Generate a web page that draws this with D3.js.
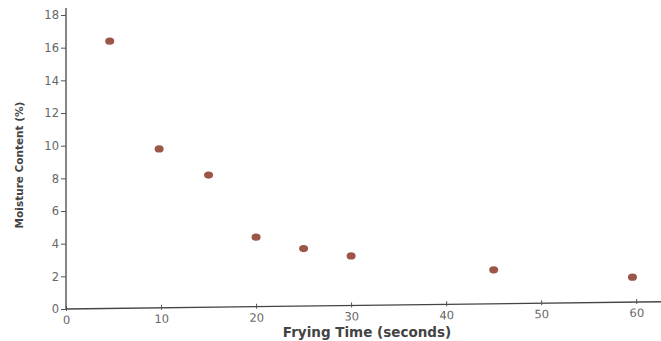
<!DOCTYPE html>
<html><head><meta charset="utf-8">
<script src="https://cdn.jsdelivr.net/npm/d3@7"></script>
<style>body{margin:0;background:#fff}svg{display:block}</style>
</head><body>
<script>
const fryingTime = [4.6, 9.8, 15, 20, 25, 30, 45, 59.6];
const moisture = [16.4, 9.8, 8.2, 4.4, 3.7, 3.25, 2.4, 1.95];
const xTicks = [0, 10, 20, 30, 40, 50, 60];
const yTicks = [0, 2, 4, 6, 8, 10, 12, 14, 16, 18];

const W = 661, H = 341;
const svg = d3.select("body").append("svg").attr("width", W).attr("height", H);
const x = d3.scaleLinear().domain([0, 62.5]).range([66, 660]);
const y = d3.scaleLinear().domain([0, 18]).range([309, 15]);
const font = "DejaVu Sans, Verdana, sans-serif";

const xa = svg.append("g").attr("transform", `translate(0,${y(0)}) rotate(-0.7 ${x(0)} 0)`)
  .call(d3.axisBottom(x).tickValues(xTicks).tickSize(3).tickFormat(d3.format("d")));
const ya = svg.append("g").attr("transform", `translate(${x(0)},0)`)
  .call(d3.axisLeft(y).tickValues(yTicks).tickSize(5).tickFormat(d3.format("d")));
[xa, ya].forEach(g => {
  g.select(".domain").attr("stroke", "#444").attr("stroke-width", 1.3);
  g.selectAll(".tick line").attr("stroke", "#555");
  g.selectAll(".tick text").attr("fill", "#666").style("font-family", font).style("font-size", "11.5px");
});
xa.select(".domain").attr("d", `M${x(0)},0H${W + 5}`);
ya.select(".domain").attr("d", `M0,${y(0)}V8`);
xa.selectAll(".tick line").attr("y1", -3).attr("y2", 2);
xa.selectAll(".tick text").attr("dy", 0).attr("y", 15);
ya.selectAll(".tick text").attr("x", -7);

svg.append("text").attr("x", 367).attr("y", 337).attr("text-anchor", "middle")
  .style("font-family", font).style("font-size", "13.5px").style("font-weight", "bold")
  .attr("fill", "#444").text("Frying Time (seconds)");
svg.append("text").attr("transform", "translate(23,165) rotate(-90)").attr("text-anchor", "middle")
  .style("font-family", font).style("font-size", "10.5px").style("font-weight", "bold")
  .attr("fill", "#444").text("Moisture Content (%)");

svg.append("g").selectAll("ellipse").data(fryingTime).join("ellipse")
  .attr("cx", (d) => x(d)).attr("cy", (d, i) => y(moisture[i]))
  .attr("rx", 4.5).attr("ry", 3.6).attr("fill", "#9b5648");
</script>
</body></html>
